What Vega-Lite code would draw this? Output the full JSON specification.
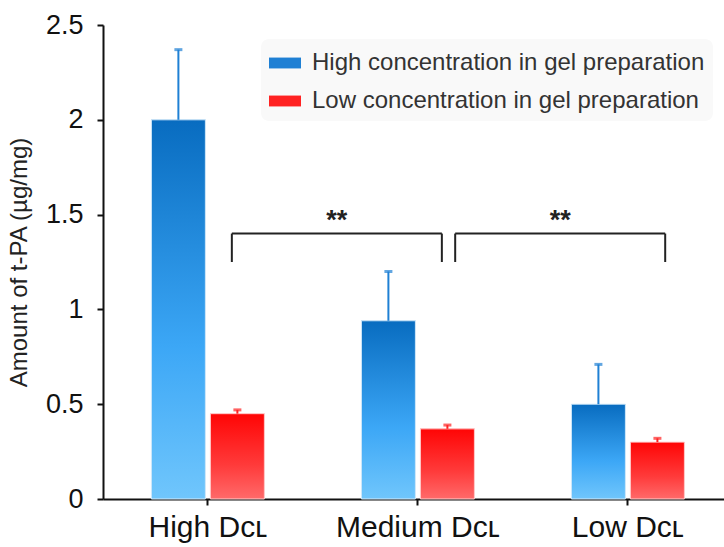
{
  "$schema": "https://vega.github.io/schema/vega-lite/v6.json",
  "width": 621,
  "height": 474,
  "autosize": {"type": "none"},
  "padding": {"left": 103, "top": 25, "right": 0, "bottom": 48},
  "background": "white",
  "config": {
    "view": {"stroke": null},
    "font": "Liberation Sans",
    "axis": {"labelFont": "Liberation Sans, DejaVu Sans", "titleFont": "Liberation Sans", "labelColor": "#111", "titleColor": "#222", "domainColor": "#111", "tickColor": "#111", "grid": false}
  },
  "datasets": {
    "main": [
      {"dose": "High D\u1d04\u029f", "conc": "High concentration in gel preparation", "value": 2.0, "upper": 2.37},
      {"dose": "High D\u1d04\u029f", "conc": "Low concentration in gel preparation", "value": 0.45, "upper": 0.47},
      {"dose": "Medium D\u1d04\u029f", "conc": "High concentration in gel preparation", "value": 0.94, "upper": 1.2},
      {"dose": "Medium D\u1d04\u029f", "conc": "Low concentration in gel preparation", "value": 0.37, "upper": 0.39},
      {"dose": "Low D\u1d04\u029f", "conc": "High concentration in gel preparation", "value": 0.5, "upper": 0.71},
      {"dose": "Low D\u1d04\u029f", "conc": "Low concentration in gel preparation", "value": 0.3, "upper": 0.32}
    ],
    "brackets": [
      {"id": 1, "from": "High D\u1d04\u029f", "to": "Medium D\u1d04\u029f", "top": 1.4, "bottom": 1.25, "star": 1.465, "label": "**"},
      {"id": 2, "from": "Medium D\u1d04\u029f", "to": "Low D\u1d04\u029f", "top": 1.4, "bottom": 1.25, "star": 1.465, "label": "**"}
    ],
    "legs": [
      {"id": 1, "dose": "High D\u1d04\u029f", "top": 1.4, "bottom": 1.25},
      {"id": 1, "dose": "Medium D\u1d04\u029f", "top": 1.4, "bottom": 1.25},
      {"id": 2, "dose": "Medium D\u1d04\u029f", "top": 1.4, "bottom": 1.25},
      {"id": 2, "dose": "Low D\u1d04\u029f", "top": 1.4, "bottom": 1.25}
    ]
  },
  "layer": [
    {
      "data": {"name": "main"},
      "mark": {"type": "bar"},
      "encoding": {
        "x": {
          "field": "dose", "type": "nominal", "sort": null,
          "scale": {"domain": ["High D\u1d04\u029f", "Medium D\u1d04\u029f", "Low D\u1d04\u029f"], "paddingInner": 0.462, "paddingOuter": 0.2095, "align": 0.55},
          "axis": {"title": null, "labelAngle": 0, "labelFontSize": 30, "labelPadding": 7, "tickSize": 6, "tickWidth": 2, "domainWidth": 2}
        },
        "xOffset": {"field": "conc", "type": "nominal", "scale": {"paddingInner": 0.085, "paddingOuter": 0}},
        "y": {
          "field": "value", "type": "quantitative",
          "scale": {"domain": [0, 2.5], "nice": false},
          "axis": {"title": "Amount of t-PA (\u00b5g/mg)", "values": [0, 0.5, 1, 1.5, 2, 2.5], "format": "~g", "labelFontSize": 27, "labelPadding": 14, "tickSize": 6, "tickWidth": 2, "domainWidth": 2, "titleFontSize": 24, "titleFontWeight": "normal", "titlePadding": 14}
        },
        "color": {
          "field": "conc", "type": "nominal",
          "scale": {"domain": ["High concentration in gel preparation", "Low concentration in gel preparation"], "range": ["#1f80d4", "#ff2222"]},
          "legend": {"title": null, "orient": "none", "legendX": 158, "legendY": 14, "symbolType": "M-1,-0.34H1V0.34H-1Z", "symbolSize": 1024, "symbolStrokeWidth": 0, "labelFontSize": 24, "labelFont": "Liberation Sans", "labelColor": "#333", "labelLimit": 600, "labelOffset": 11, "rowPadding": 10, "fillColor": "#f9f9f9", "cornerRadius": 8, "padding": 8}
        }
      }
    },
    {
      "data": {"name": "main"},
      "transform": [{"filter": "datum.conc === 'High concentration in gel preparation'"}],
      "mark": {"type": "bar", "stroke": "#d6ebfa", "strokeWidth": 1, "fill": {"gradient": "linear", "x1": 0, "y1": 0, "x2": 0, "y2": 1, "stops": [{"offset": 0, "color": "#086cc0"}, {"offset": 0.6, "color": "#3ca7f6"}, {"offset": 1, "color": "#70c6fc"}]}},
      "encoding": {
        "x": {"field": "dose", "type": "nominal", "sort": null},
        "xOffset": {"field": "conc", "type": "nominal"},
        "y": {"field": "value", "type": "quantitative"}
      }
    },
    {
      "data": {"name": "main"},
      "transform": [{"filter": "datum.conc === 'Low concentration in gel preparation'"}],
      "mark": {"type": "bar", "stroke": "#ffd0d0", "strokeWidth": 1, "fill": {"gradient": "linear", "x1": 0, "y1": 0, "x2": 0, "y2": 1, "stops": [{"offset": 0, "color": "#ff0505"}, {"offset": 0.6, "color": "#ff3a3a"}, {"offset": 1, "color": "#ff6a6a"}]}},
      "encoding": {
        "x": {"field": "dose", "type": "nominal", "sort": null},
        "xOffset": {"field": "conc", "type": "nominal"},
        "y": {"field": "value", "type": "quantitative"}
      }
    },
    {
      "data": {"name": "main"},
      "mark": {"type": "rule", "strokeWidth": 2},
      "encoding": {
        "x": {"field": "dose", "type": "nominal", "sort": null},
        "xOffset": {"field": "conc", "type": "nominal"},
        "y": {"field": "value", "type": "quantitative"},
        "y2": {"field": "upper"},
        "color": {"field": "conc", "type": "nominal", "legend": null}
      }
    },
    {
      "data": {"name": "main"},
      "mark": {"type": "tick", "size": 8, "thickness": 3},
      "encoding": {
        "x": {"field": "dose", "type": "nominal", "sort": null},
        "xOffset": {"field": "conc", "type": "nominal"},
        "y": {"field": "upper", "type": "quantitative"},
        "color": {"field": "conc", "type": "nominal", "legend": null}
      }
    },
    {
      "data": {"name": "brackets"},
      "transform": [{"filter": "datum.id === 1"}],
      "layer": [
        {
          "mark": {"type": "rule", "color": "#222", "strokeWidth": 2},
          "encoding": {
            "x": {"field": "from", "type": "nominal", "sort": null, "bandPosition": 0.712},
            "x2": {"field": "to", "bandPosition": 0.712},
            "y": {"field": "top", "type": "quantitative"}
          }
        },
        {
          "mark": {"type": "text", "fontSize": 27, "font": "Liberation Sans", "fontWeight": "bold", "color": "#222", "baseline": "middle"},
          "encoding": {
            "x": {"field": "from", "type": "nominal", "sort": null, "bandPosition": 1.641},
            "y": {"field": "star", "type": "quantitative"},
            "text": {"field": "label"}
          }
        }
      ]
    },
    {
      "data": {"name": "brackets"},
      "transform": [{"filter": "datum.id === 2"}],
      "layer": [
        {
          "mark": {"type": "rule", "color": "#222", "strokeWidth": 2},
          "encoding": {
            "x": {"field": "from", "type": "nominal", "sort": null, "bandPosition": 0.83},
            "x2": {"field": "to", "bandPosition": 0.83},
            "y": {"field": "top", "type": "quantitative"}
          }
        },
        {
          "mark": {"type": "text", "fontSize": 27, "font": "Liberation Sans", "fontWeight": "bold", "color": "#222", "baseline": "middle"},
          "encoding": {
            "x": {"field": "from", "type": "nominal", "sort": null, "bandPosition": 1.759},
            "y": {"field": "star", "type": "quantitative"},
            "text": {"field": "label"}
          }
        }
      ]
    },
    {
      "data": {"name": "legs"},
      "transform": [{"filter": "datum.id === 1"}],
      "mark": {"type": "rule", "color": "#222", "strokeWidth": 2},
      "encoding": {
        "x": {"field": "dose", "type": "nominal", "sort": null, "bandPosition": 0.712},
        "y": {"field": "top", "type": "quantitative"},
        "y2": {"field": "bottom"}
      }
    },
    {
      "data": {"name": "legs"},
      "transform": [{"filter": "datum.id === 2"}],
      "mark": {"type": "rule", "color": "#222", "strokeWidth": 2},
      "encoding": {
        "x": {"field": "dose", "type": "nominal", "sort": null, "bandPosition": 0.83},
        "y": {"field": "top", "type": "quantitative"},
        "y2": {"field": "bottom"}
      }
    }
  ]
}
